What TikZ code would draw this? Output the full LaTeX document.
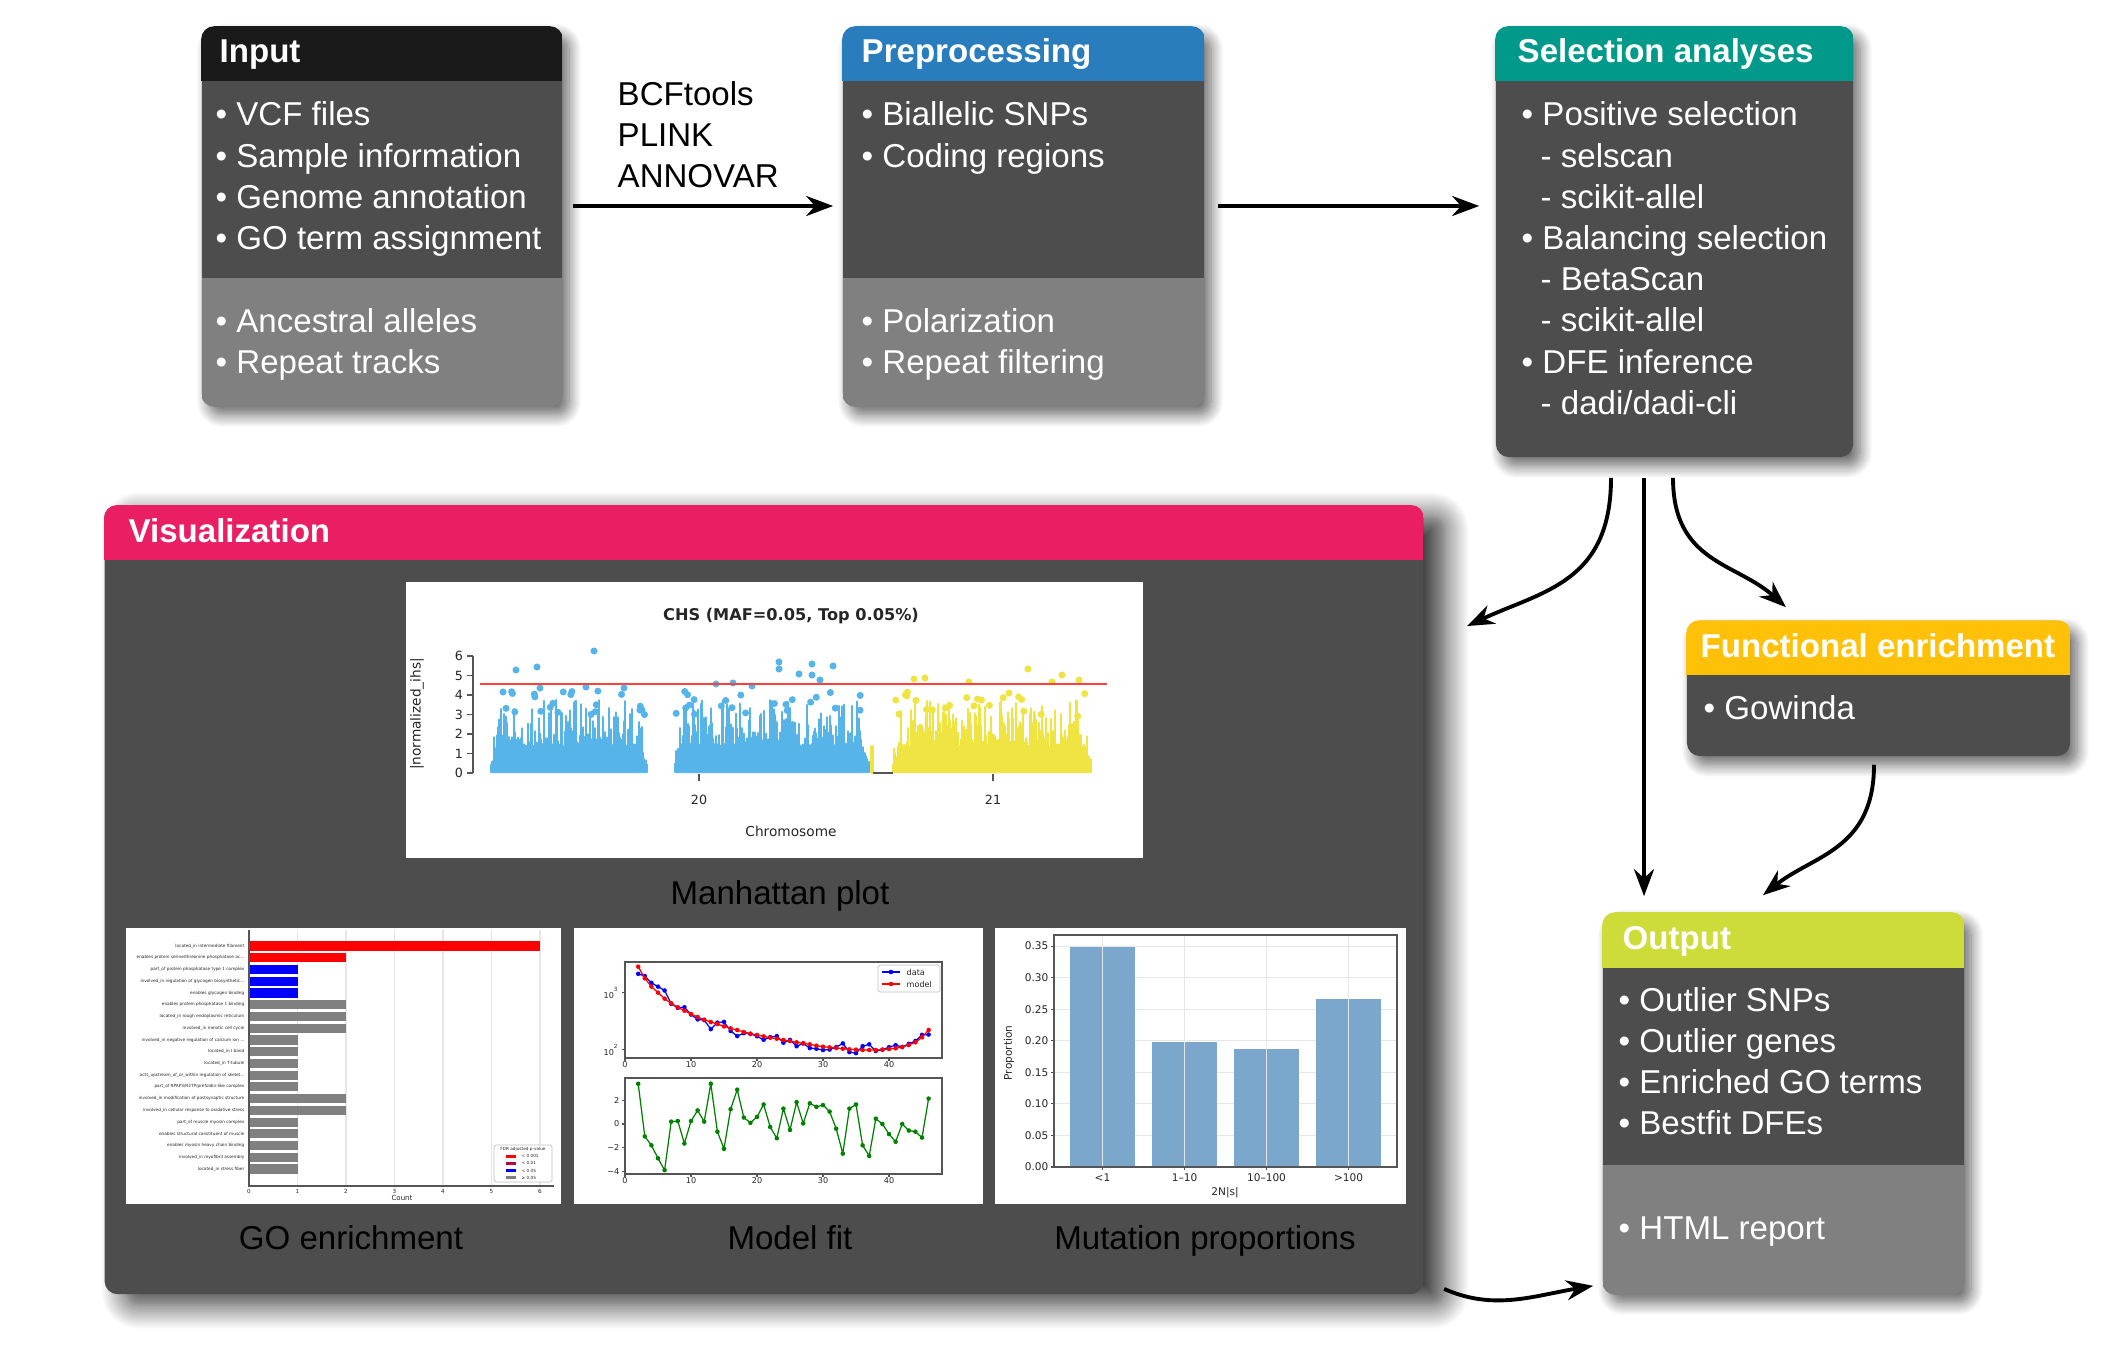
\documentclass[tikz,border=0pt]{standalone}
\usepackage{fontspec}
\setmainfont{Liberation Sans}
\newfontfamily\plotfont{DejaVu Sans}
\usetikzlibrary{arrows.meta,shadows.blur}

\definecolor{boxdark}{HTML}{4D4D4D}
\definecolor{boxlight}{HTML}{808080}
\definecolor{hdrinput}{HTML}{1A1A1A}
\definecolor{hdrprep}{HTML}{2A7DBD}
\definecolor{hdrsel}{HTML}{00998A}
\definecolor{hdrvis}{HTML}{E91E63}
\definecolor{hdrfunc}{HTML}{FFC107}
\definecolor{hdrout}{HTML}{CDDC39}
\definecolor{manblue}{HTML}{56B4E9}
\definecolor{manyellow}{HTML}{F0E442}
\definecolor{barblue}{HTML}{7BA7CC}
\definecolor{gridgrey}{HTML}{E6E6E6}
\definecolor{axisgrey}{HTML}{555555}

% x / model (zoom px) / residual
\newcommand\fitdata{2/140/3.4, 3/175/-1.05, 4/200/-1.8, 5/218/-2.9, 6/236/-3.9, 7/250/0.2,
  8/262/0.25, 9/272/-1.65, 10/282/0.25, 11/291/1.15, 12/299/0.2, 13/306/3.4, 14/312/-0.65,
  15/319/-2.1, 16/325/1.25, 17/330/2.9, 18/336/0.55, 19/341/0.1, 20/345/0.6, 21/349/1.65,
  22/353/-0.25, 23/356/-1.2, 24/360/1.3, 25/363/-0.5, 26/367/1.85, 27/370/0.05, 28/373/1.75,
  29/377/1.45, 30/380/1.6, 31/382/1.05, 32/384/-0.4, 33/386/-2.5, 34/388/1.3, 35/389/1.65,
  36/390/-1.8, 37/390/-2.7, 38/390/0.45, 39/389/0.0, 40/387/-0.85, 41/385/-1.5, 42/381/0.0,
  43/375/-0.55, 44/367/-0.65, 45/352/-1.15, 46/330/2.15}

\begin{document}
\begin{tikzpicture}[x=0.01cm, y=-0.01cm,
  panel/.style={rectangle, rounded corners=0.13cm, fill=boxdark, inner sep=0pt,
    blur shadow={shadow xshift=2pt, shadow yshift=-2.5pt, shadow blur radius=3.5pt,
      shadow blur steps=12, shadow opacity=60}},
  bigpanel/.style={rectangle, rounded corners=0.13cm, fill=boxdark, inner sep=0pt,
    blur shadow={shadow xshift=6pt, shadow yshift=-3pt, shadow blur radius=7pt,
      shadow blur steps=16, shadow opacity=80}},
  hdr/.style={anchor=base west, inner sep=0pt, text=white, font=\fontsize{9.4}{11}\selectfont\bfseries},
  item/.style={anchor=base west, inner sep=0pt, text=white, font=\fontsize{9.4}{11}\selectfont},
  caption/.style={anchor=base, inner sep=0pt, text=black, font=\fontsize{9.4}{11}\selectfont},
  plotbg/.style={rectangle, fill=white, inner sep=0pt},
  tick/.style={inner sep=0pt, text=black!85, font=\plotfont\fontsize{3.6}{4}\selectfont},
  golabel/.style={inner sep=0pt, anchor=east, text=black!85, font=\plotfont\fontsize{1.2}{1.4}\selectfont},
  axis/.style={axisgrey, line width=0.3pt},
  flow/.style={-{Stealth[length=0.27cm, width=0.2cm]}, line width=1.1pt}]

\useasboundingbox (0,0) rectangle (2109,1361);

% ---- input
\node[panel, minimum width=3.6cm, minimum height=3.79cm] (input) at (382,216.5) {};
\begin{scope}
  \clip[rounded corners=0.13cm] (input.north west) rectangle (input.south east);
  \fill[hdrinput] (input.north west) rectangle (562,81);
  \fill[boxlight] (202,278) rectangle (input.south east);
\end{scope}
\node[hdr] (inputhdr) at (219,63) {Input};
\foreach \t [count=\i from 0] in {VCF files, Sample information, Genome annotation, GO term assignment}
  \node[item] (inA\i) at (215,{126+41.2*\i}) {\textbullet\ \t};
\foreach \t [count=\i from 0] in {Ancestral alleles, Repeat tracks}
  \node[item] (inB\i) at (215,{333+41*\i}) {\textbullet\ \t};

% ---- preprocessing
\node[panel, minimum width=3.61cm, minimum height=3.79cm] (prep) at (1023.5,216.5) {};
\begin{scope}
  \clip[rounded corners=0.13cm] (prep.north west) rectangle (prep.south east);
  \fill[hdrprep] (prep.north west) rectangle (1204,81);
  \fill[boxlight] (843,278) rectangle (prep.south east);
\end{scope}
\node[hdr] (prephdr) at (861,63) {Preprocessing};
\foreach \t [count=\i from 0] in {Biallelic SNPs, Coding regions}
  \node[item] (prA\i) at (861,{126+41.2*\i}) {\textbullet\ \t};
\foreach \t [count=\i from 0] in {Polarization, Repeat filtering}
  \node[item] (prB\i) at (861,{333+41*\i}) {\textbullet\ \t};

% ---- selection analyses
\node[panel, minimum width=3.57cm, minimum height=4.3cm] (sel) at (1674.5,242) {};
\begin{scope}
  \clip[rounded corners=0.13cm] (sel.north west) rectangle (sel.south east);
  \fill[hdrsel] (sel.north west) rectangle (1853,81);
\end{scope}
\node[hdr] (selhdr) at (1517,63) {Selection analyses};
\foreach \dx/\t [count=\i from 0] in {0/{\textbullet\ Positive selection}, 19/{- selscan}, 19/{- scikit-allel},
    0/{\textbullet\ Balancing selection}, 19/{- BetaScan}, 19/{- scikit-allel},
    0/{\textbullet\ DFE inference}, 19/{- dadi/dadi-cli}}
  \node[item] (sel\i) at ({1521+\dx},{126+41.2*\i}) {\t};

% ---- tools between input and preprocessing
\foreach \t [count=\i from 0] in {BCFtools, PLINK, ANNOVAR}
  \node[item, text=black] (tool\i) at (617,{106+41*\i}) {\t};

% ---- visualization
\node[bigpanel, minimum width=13.18cm, minimum height=7.88cm] (vis) at (764,900) {};
\begin{scope}
  \clip[rounded corners=0.13cm] (vis.north west) rectangle (vis.south east);
  \fill[hdrvis] (vis.north west) rectangle (1423,560);
\end{scope}
\node[hdr] (vishdr) at (128,542) {Visualization};

% Manhattan plot
\node[plotbg, minimum width=7.37cm, minimum height=2.76cm] (manhattan) at (774.5,720) {};
\node[tick, font=\plotfont\bfseries\fontsize{4.6}{5}\selectfont] (mantitle) at (791,616) {CHS (MAF=0.05, Top 0.05\%)};
\pgfmathsetseed{42}
\foreach \xa/\xb/\col in {491/647/manblue, 675/869/manblue, 893/1091/manyellow} {
  \pgfmathtruncatemacro{\xc}{\xa+1}
  \foreach \px in {\xa,\xc,...,\xb} {
    \pgfmathsetmacro{\u}{rnd}
    \pgfmathsetmacro{\h}{(1.3+2.4*\u*\u)*min(1,(\px-\xa+3)/12,(\xb-\px+3)/12)}
    \draw[\col, line width=0.8pt, line cap=round] (\px,772) -- (\px,{772-19.5*\h});
  }
  \foreach \k in {1,...,22} {
    \pgfmathsetmacro{\px}{\xa+(\xb-\xa)*rnd}
    \pgfmathsetmacro{\h}{2.9+1.3*rnd}
    \fill[\col] (\px,{773-19.5*\h}) circle (1pt);
  }
}
% outlying points
\foreach \px/\py in {516/670, 537/667, 594/651, 540/688, 586/687, 503/692, 624/688}
  \fill[manblue] (\px,\py) circle (1pt);
\foreach \px/\py in {779/662, 779/669, 799/674, 812/664, 812/675, 833/666, 820/680, 716/684, 733/683, 752/686}
  \fill[manblue] (\px,\py) circle (1pt);
\foreach \px/\py in {1028/669, 1062/675, 1079/680, 969/682, 914/679, 925/678, 1052/682, 1009/693}
  \fill[manyellow] (\px,\py) circle (1pt);
\draw[manyellow, line width=1.1pt, line cap=round] (872,772) -- (872,747);
\draw[axis] (873,773) -- (893,773);
\draw[red!75, line width=0.5pt] (480,684) -- (1107,684);
\draw[axis] (473,656) -- (473,773);
\foreach \v in {0,...,6}
  \draw[axis] (473,{773-19.5*\v}) -- (467,{773-19.5*\v}) node[tick, anchor=east, xshift=-1pt] (many\v) {\v};
\foreach \c/\t in {699/20, 993/21}
  \draw[axis] (\c,774) -- (\c,781) node[tick, anchor=base] (manx\t) at (\c,804) {\t};
\node[tick, font=\plotfont\fontsize{3.9}{4}\selectfont] (manxlab) at (791,831) {Chromosome};
\node[tick, rotate=90, font=\plotfont\fontsize{3.9}{4}\selectfont] (manylab) at (417,714) {|normalized\_ihs|};
\node[caption] (capman) at (780,904) {Manhattan plot};

% GO enrichment
\node[plotbg, minimum width=4.35cm, minimum height=2.76cm] (goplot) at (343.5,1066) {};
\foreach \k in {1,...,6}
  \draw[gridgrey, line width=0.3pt] ({249+48.5*\k},930) -- ({249+48.5*\k},1186);
\foreach \v/\c/\t [count=\i from 0] in {6/red/{located\_in intermediate filament},
    2/red/{enables protein serine/threonine phosphatase ac...},
    1/blue/{part\_of protein phosphatase type 1 complex},
    1/blue/{involved\_in regulation of glycogen biosynthetic...},
    1/blue/{enables glycogen binding},
    2/gray/{enables protein phosphatase 1 binding},
    2/gray/{located\_in rough endoplasmic reticulum},
    2/gray/{involved\_in meiotic cell cycle},
    1/gray/{involved\_in negative regulation of calcium ion ...},
    1/gray/{located\_in I band},
    1/gray/{located\_in T-tubule},
    1/gray/{acts\_upstream\_of\_or\_within regulation of skelet...},
    1/gray/{part\_of RPAP3/R2TP/prefoldin-like complex},
    2/gray/{involved\_in modification of postsynaptic structure},
    2/gray/{involved\_in cellular response to oxidative stress},
    1/gray/{part\_of muscle myosin complex},
    1/gray/{enables structural constituent of muscle},
    1/gray/{enables myosin heavy chain binding},
    1/gray/{involved\_in myofibril assembly},
    1/gray/{located\_in stress fiber}} {
  \fill[\c] (249,{941.4+11.74*\i}) rectangle ({249+48.5*\v},{950.6+11.74*\i});
  \node[golabel] (go\i) at (245,{946+11.74*\i}) {\t};
}
\draw[axis] (249,930) -- (249,1186) -- (554,1186);
\foreach \k in {0,...,6}
  \node[golabel, anchor=center, font=\plotfont\fontsize{1.6}{2}\selectfont] (gox\k) at ({249+48.5*\k},1191) {\k};
\node[golabel, anchor=center, font=\plotfont\fontsize{2}{2.4}\selectfont] (gocount) at (402,1198) {Count};
\draw[black!25, line width=0.2pt, fill=white, rounded corners=0.5pt] (494,1145) rectangle (552,1182);
\node[golabel, anchor=center] (goleg) at (523,1149) {FDR adjusted p-value};
\foreach \c/\t [count=\i from 0] in {red/{< 0.001}, purple/{< 0.01}, blue/{< 0.05}, gray/{≥ 0.05}} {
  \fill[\c] (506,{1154.5+7.3*\i}) rectangle (516,{1157.5+7.3*\i});
  \node[golabel, anchor=west] (goleg\i) at (521,{1156+7.3*\i}) {\t};
}
\node[caption] (capgo) at (351,1249) {GO enrichment};

% Model fit
\node[plotbg, minimum width=4.09cm, minimum height=2.76cm] (fitplot) at (778.5,1066) {};
\draw[axisgrey, line width=0.35pt] (625,962) rectangle (942,1058);
\draw[axisgrey, line width=0.35pt] (625,1078) rectangle (942,1174);
\foreach \v in {0,10,...,40} {
  \draw[axis] ({625+6.6*\v},1058) -- ++(0,2.5);
  \draw[axis] ({625+6.6*\v},1174) -- ++(0,2.5);
  \node[tick, font=\plotfont\fontsize{2.3}{3}\selectfont] (fitxa\v) at ({625+6.6*\v},1065) {\v};
  \node[tick, font=\plotfont\fontsize{2.3}{3}\selectfont] (fitxb\v) at ({625+6.6*\v},1181) {\v};
}
\foreach \y/\t in {992.7/3, 1049.7/2} {
  \draw[axis] (625,\y) -- ++(-3,0);
  \node[tick, anchor=east, font=\plotfont\fontsize{2.3}{3}\selectfont] (fitlog\t) at (620,\y) {10\textsuperscript{\t}};
}
\foreach \v/\t in {2/2, 0/0, -2/−2, -4/−4} {
  \draw[axis] (625,{1124-11.83*\v}) -- ++(-3,0);
  \node[tick, anchor=east, font=\plotfont\fontsize{2.3}{3}\selectfont] (fitres\v) at (620,{1124-11.83*\v}) {\t};
}
\draw[blue, line width=0.35pt] (638.2,973.8) \foreach \k/\m/\r in \fitdata { -- ({625+6.6*\k},{920+\m/3+2.1*\r}) };
\foreach \k/\m/\r in \fitdata
  \fill[blue] ({625+6.6*\k},{920+\m/3+2.1*\r}) circle (0.65pt);
\draw[red, line width=0.35pt] (638.2,966.7) \foreach \k/\m/\r in \fitdata { -- ({625+6.6*\k},{920+\m/3}) };
\foreach \k/\m/\r in \fitdata
  \fill[red] ({625+6.6*\k},{920+\m/3}) circle (0.65pt);
\draw[green!50!black, line width=0.35pt] (638.2,1083.8) \foreach \k/\m/\r in \fitdata { -- ({625+6.6*\k},{1124-11.83*\r}) };
\foreach \k/\m/\r in \fitdata
  \fill[green!50!black] ({625+6.6*\k},{1124-11.83*\r}) circle (0.65pt);
\draw[black!25, line width=0.2pt, fill=white, rounded corners=0.5pt] (878,965) rectangle (940,992);
\foreach \c/\t [count=\i from 0] in {blue/data, red/model} {
  \draw[\c, line width=0.35pt] (882,{972+12*\i}) -- (900,{972+12*\i});
  \fill[\c] (891,{972+12*\i}) circle (0.65pt);
  \node[tick, anchor=west, font=\plotfont\fontsize{2.3}{3}\selectfont] (fitleg\i) at (906,{972+12*\i}) {\t};
}
\node[caption] (capfit) at (790,1249) {Model fit};

% Mutation proportions
\node[plotbg, minimum width=4.11cm, minimum height=2.76cm] (mutplot) at (1200.5,1066) {};
\foreach \k/\t in {0/0.00, 1/0.05, 2/0.10, 3/0.15, 4/0.20, 5/0.25, 6/0.30, 7/0.35} {
  \draw[gridgrey, line width=0.3pt] (1054,{1167-31.55*\k}) -- (1397,{1167-31.55*\k});
  \draw[axis] (1054,{1167-31.55*\k}) -- ++(-3,0);
  \node[tick, anchor=east, font=\plotfont\fontsize{3}{3.5}\selectfont] (muty\k) at (1049,{1167-31.55*\k}) {\t};
}
\foreach \c/\v/\t [count=\i] in {1102.5/0.348/{<1}, 1184.5/0.198/{1–10}, 1266.5/0.187/{10–100}, 1348.5/0.267/{>100}} {
  \draw[gridgrey, line width=0.3pt] (\c,935) -- (\c,1167);
  \fill[barblue] ({\c-32.5},1167) rectangle ({\c+32.5},{1167-631*\v});
  \draw[black!10, line width=0.2pt] (\c,{1167-631*\v}) -- (\c,1167);
  \draw[axis] (\c,1167) -- ++(0,3);
  \node[tick, font=\plotfont\fontsize{3}{3.5}\selectfont] (mutx\i) at (\c,1178) {\t};
}
\draw[axisgrey, line width=0.35pt] (1054,935) rectangle (1397,1167);
\node[tick, font=\plotfont\fontsize{3}{3.5}\selectfont] (mutxlab) at (1225,1193) {2N|s|};
\node[tick, rotate=90, font=\plotfont\fontsize{3}{3.5}\selectfont] (mutylab) at (1009,1053) {Proportion};
\node[caption] (capmut) at (1205,1249) {Mutation proportions};

% ---- functional enrichment
\node[panel, minimum width=3.83cm, minimum height=1.35cm] (func) at (1878.5,688.5) {};
\begin{scope}
  \clip[rounded corners=0.13cm] (func.north west) rectangle (func.south east);
  \fill[hdrfunc] (func.north west) rectangle (2070,675);
\end{scope}
\node[hdr] (funchdr) at (1700,657) {Functional enrichment};
\node[item] (func0) at (1703,719) {\textbullet\ Gowinda};

% ---- output
\node[panel, minimum width=3.61cm, minimum height=3.81cm] (output) at (1783.5,1103.5) {};
\begin{scope}
  \clip[rounded corners=0.13cm] (output.north west) rectangle (output.south east);
  \fill[hdrout] (output.north west) rectangle (1964,968);
  \fill[boxlight] (1603,1165) rectangle (output.south east);
\end{scope}
\node[hdr] (outhdr) at (1622,949) {Output};
\foreach \t [count=\i from 0] in {Outlier SNPs, Outlier genes, Enriched GO terms, Bestfit DFEs}
  \node[item] (outA\i) at (1618,{1011+41.2*\i}) {\textbullet\ \t};
\node[item] (outB0) at (1618,1239) {\textbullet\ HTML report};

% ---- connectors
\draw[flow] ([shift={(10,-10.5)}]input.east) -- ([shift={(-9,-10.5)}]prep.west);
\draw[flow] ([shift={(13,-10.5)}]prep.east) -- ([shift={(-16,-36)}]sel.west);
\draw[flow] ([shift={(-63.5,20)}]sel.south) .. controls +(0,105) and +(75,-35) .. ([shift={(43,121)}]vis.north east);
\draw[flow] ([shift={(-30.5,20)}]sel.south) -- ([shift={(-139.5,-16)}]output.north);
\draw[flow] ([shift={(-1.5,20)}]sel.south) .. controls +(0,85) and +(-50,-45) .. ([shift={(-92.5,-13)}]func.north);
\draw[flow] ([shift={(-4.5,8)}]func.south) .. controls +(0,85) and +(50,-40) .. ([shift={(-20.5,-17)}]output.north);
\draw[flow] ([shift={(20,-6)}]vis.south east) .. controls +(50,22) and +(-60,10) .. ([shift={(-9,-9)}]output.south west);
\end{tikzpicture}
\end{document}
